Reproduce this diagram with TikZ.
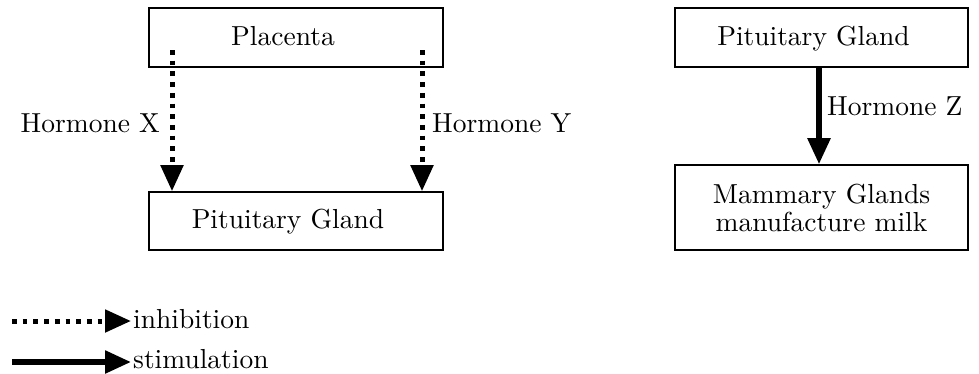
\documentclass[tikz,border=0pt]{standalone}
\usepackage{fontspec}
\setmainfont{lmroman10-regular.otf}
\usetikzlibrary{arrows.meta}
\begin{document}
\begin{tikzpicture}[x=1pt,y=-1pt,
  box/.style={draw, line width=1.6pt, inner sep=0pt, text height=20pt, text depth=5pt,
    font=\fontsize{27.5}{28}\selectfont},
  lbl/.style={inner sep=2pt, font=\fontsize{27.5}{28}\selectfont},
  inhib/.style={line width=5pt, dash pattern=on 4.7pt off 6pt, -{Triangle[length=26pt,width=22pt]}},
  stim/.style={line width=5.5pt, -{Triangle[length=26pt,width=22pt]}}]
\useasboundingbox (0,0) rectangle (979,373);
% left diagram
\node[box, minimum width=294pt, minimum height=59pt] (plac) at (296,37.5) {\hspace*{-26pt}Placenta};
\node[box, minimum width=294pt, minimum height=58pt] (pitL) at (296,221) {\hspace*{-16pt}Pituitary Gland};
\coordinate (xs) at (172,50);
\coordinate (ys) at (422,50);
\draw[inhib] (xs) -- (xs |- pitL.north);
\draw[inhib] (ys) -- (ys |- pitL.north);
\node[lbl, anchor=base east] (hx) at (162,132) {Hormone X};
\node[lbl, anchor=base west] (hy) at (430,132) {Hormone Y};
% right diagram
\node[box, minimum width=293pt, minimum height=59pt] (pitR) at (821.5,37.5) {\hspace*{-16pt}Pituitary Gland};
\node[box, minimum width=293pt, minimum height=85pt, align=center, text height=, text depth=] (mam) at (821.5,207.5) {Mammary Glands\\manufacture milk};
\coordinate (zs) at (819,67);
\draw[stim] (zs |- pitR.south) -- (zs |- mam.north);
\node[lbl, anchor=base west] (hz) at (825,115) {Hormone Z};
% legend
\coordinate (i0) at (12,321);
\coordinate (s0) at (12,362);
\node[lbl, anchor=base west] (inh) at (131,328) {inhibition};
\node[lbl, anchor=base west] (sti) at (131,368) {stimulation};
\draw[inhib] (i0) -- (i0 -| inh.west);
\draw[stim] (s0) -- (s0 -| sti.west);
\end{tikzpicture}
\end{document}
